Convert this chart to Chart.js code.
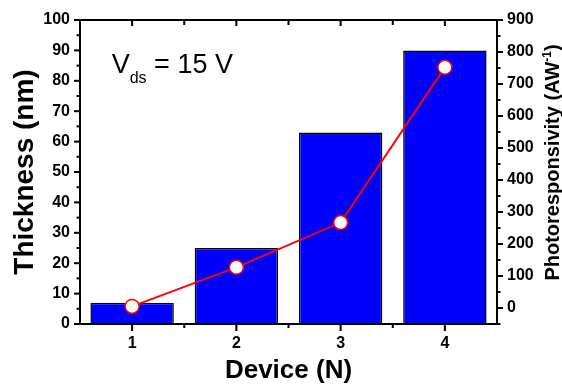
<!DOCTYPE html>
<html>
<head>
<meta charset="utf-8">
<script src="https://cdn.jsdelivr.net/npm/chart.js@4.4.1/dist/chart.umd.min.js"></script>
<style>
  html, body { margin: 0; padding: 0; background: #ffffff; }
  canvas { display: block; }
</style>
</head>
<body>
<canvas id="chart" width="562" height="385"></canvas>
<script>
// Device index along the x axis
const devices = ['1', '2', '3', '4'];
// Flake thickness per device (nm), left axis
const thickness = [7, 25, 63, 90];
// Photoresponsivity per device (A/W), right axis
const photoresponsivity = [5, 127, 267, 752];
// Labelled ticks
const thicknessTicks = [0, 10, 20, 30, 40, 50, 60, 70, 80, 90, 100];
const responsivityTicks = [0, 100, 200, 300, 400, 500, 600, 700, 800, 900];

const FAMILY = '"Liberation Sans", Arial, Helvetica, sans-serif';
const tickFont = { family: FAMILY, size: 16, weight: 'bold' };

// Midpoints between labelled ticks, plus one half step beyond each end if still on the axis
function minorValues(scale) {
  const vals = scale.ticks.map(t => t.value);
  const out = [];
  for (let i = 0; i < vals.length - 1; i++) out.push((vals[i] + vals[i + 1]) / 2);
  if (vals.length > 1) {
    const step = vals[1] - vals[0];
    const lo = vals[0] - step / 2, hi = vals[vals.length - 1] + step / 2;
    if (lo >= scale.min) out.push(lo);
    if (hi <= scale.max) out.push(hi);
  }
  return out;
}

// Closed frame with major and minor tick marks on every side
const frameTicks = {
  id: 'frameTicks',
  afterDatasetsDraw(chart) {
    const { ctx, chartArea: a, scales } = chart;
    const seg = (x1, y1, x2, y2) => { ctx.beginPath(); ctx.moveTo(x1, y1); ctx.lineTo(x2, y2); ctx.stroke(); };
    ctx.save();
    ctx.strokeStyle = '#000';
    ctx.lineWidth = 2;
    ctx.lineCap = 'butt';

    const y = scales.y, y2 = scales.y2, x = scales.x;
    y.ticks.forEach(t => { const p = y.getPixelForValue(t.value); seg(a.left - 6, p, a.left, p); });
    minorValues(y).forEach(v => { const p = y.getPixelForValue(v); seg(a.left - 3.5, p, a.left, p); });

    y2.ticks.forEach(t => { const p = y2.getPixelForValue(t.value); seg(a.right, p, a.right + 6, p); });
    minorValues(y2).forEach(v => { const p = y2.getPixelForValue(v); seg(a.right, p, a.right + 3.5, p); });

    const n = devices.length;
    for (let i = 0; i < n; i++) {
      const p = x.getPixelForValue(i);
      seg(p, a.bottom, p, a.bottom + 7);
      seg(p, a.top, p, a.top + 6);
    }
    for (let i = 0; i < n - 1; i++) {
      const p = x.getPixelForValue(i + 0.5);
      seg(p, a.bottom, p, a.bottom + 4);
      seg(p, a.top, p, a.top + 5);
    }

    ctx.strokeRect(a.left, a.top, a.right - a.left, a.bottom - a.top);
    ctx.restore();
  },
  afterDraw(chart) {
    const { ctx, chartArea: a } = chart;
    ctx.save();
    ctx.fillStyle = '#000';
    ctx.textBaseline = 'alphabetic';

    // Bias annotation: V_ds = 15 V
    let px = a.left + 31.7;
    const base = a.top + 52.7;
    ctx.textAlign = 'left';
    ctx.font = '27px ' + FAMILY;
    ctx.fillText('V', px, base);
    px += ctx.measureText('V').width;
    ctx.font = '16px ' + FAMILY;
    ctx.fillText('ds', px, base + 10.6);
    px += ctx.measureText('ds').width;
    ctx.font = '27px ' + FAMILY;
    ctx.fillText(' = 15 V', px, base);

    // Right axis title with superscript unit
    const parts = [
      { t: 'Photoresponsivity (AW', f: 'bold 20px ' + FAMILY, dy: 0 },
      { t: '-1', f: 'bold 12px ' + FAMILY, dy: -8.5 },
      { t: ')', f: 'bold 20px ' + FAMILY, dy: 0 }
    ];
    let total = 0;
    parts.forEach(p => { ctx.font = p.f; p.w = ctx.measureText(p.t).width; total += p.w; });
    ctx.translate(559, a.top + 142.5);
    ctx.rotate(-Math.PI / 2);
    let cx = -total / 2;
    parts.forEach(p => { ctx.font = p.f; ctx.fillText(p.t, cx, p.dy); cx += p.w; });
    ctx.restore();
  }
};

new Chart(document.getElementById('chart'), {
  type: 'bar',
  data: {
    labels: devices,
    datasets: [
      {
        type: 'line',
        label: 'Photoresponsivity',
        data: photoresponsivity,
        yAxisID: 'y2',
        order: 0,
        borderColor: '#ff0000',
        borderWidth: 2,
        tension: 0,
        pointRadius: 7,
        pointBackgroundColor: '#ffffff',
        pointBorderColor: '#ff0000',
        pointBorderWidth: 1.5,
        clip: false
      },
      {
        type: 'bar',
        label: 'Thickness',
        data: thickness,
        yAxisID: 'y',
        order: 1,
        backgroundColor: '#0000ff',
        borderColor: '#000000',
        borderWidth: 1.5,
        barPercentage: 0.8,
        categoryPercentage: 1.0
      }
    ]
  },
  options: {
    responsive: false,
    animation: false,
    devicePixelRatio: 1,
    layout: { padding: { top: 20, left: 0, right: 0, bottom: 0 } },
    plugins: { legend: { display: false }, tooltip: { enabled: false } },
    scales: {
      x: {
        type: 'category',
        offset: true,
        grid: { display: false, drawTicks: false },
        border: { display: false },
        ticks: { padding: 10, font: tickFont, color: '#000' },
        title: {
          display: true,
          text: 'Device (N)',
          color: '#000',
          font: { family: FAMILY, size: 26, weight: 'bold', lineHeight: 1 },
          padding: { top: 0, bottom: 1 }
        },
        afterFit: s => { s.height = 61; }
      },
      y: {
        type: 'linear',
        position: 'left',
        min: 0,
        max: 100,
        afterBuildTicks: s => { s.ticks = thicknessTicks.map(v => ({ value: v })); },
        grid: { display: false, drawTicks: false },
        border: { display: false },
        ticks: { padding: 10, font: tickFont, color: '#000' },
        title: {
          display: true,
          text: 'Thickness (nm)',
          color: '#000',
          font: { family: FAMILY, size: 28, weight: 'bold', lineHeight: 1 },
          padding: { top: 11, bottom: 0 }
        },
        afterFit: s => { s.width = 80; }
      },
      y2: {
        type: 'linear',
        position: 'right',
        min: -50,
        max: 900,
        afterBuildTicks: s => { s.ticks = responsivityTicks.map(v => ({ value: v })); },
        grid: { display: false, drawTicks: false },
        border: { display: false },
        ticks: { padding: 10, font: tickFont, color: '#000' },
        afterFit: s => { s.width = 65; }
      }
    }
  },
  plugins: [frameTicks]
});
</script>
</body>
</html>
